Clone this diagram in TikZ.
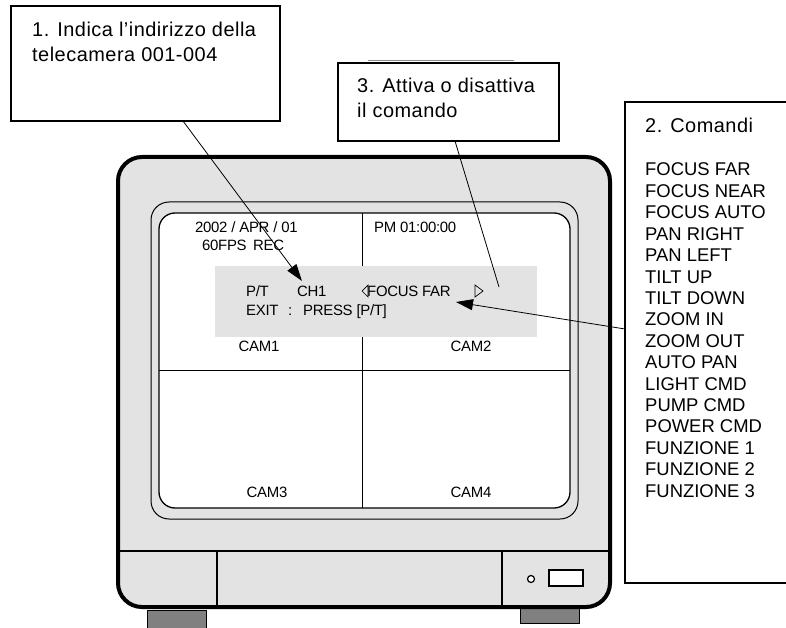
\documentclass[tikz,border=0pt]{standalone}
\usepackage{fontspec}
\setmainfont{Liberation Sans}
\newfontfamily\wideF[LetterSpace=2.5]{Liberation Sans}
\newfontfamily\osdF[LetterSpace=-2]{Liberation Sans}
\usetikzlibrary{arrows.meta}
\definecolor{panel}{HTML}{E3E3E3}
\definecolor{footgray}{HTML}{808080}
\begin{document}
\begin{tikzpicture}[x=1bp,y=-1bp,
  callout/.style={draw, line width=1.4bp, fill=white, inner sep=0pt, outer sep=0pt, anchor=north west},
  lbl/.style={anchor=base west, inner sep=0pt, font=\fontsize{20}{24}\wideF},
  lst/.style={anchor=base west, inner sep=0pt, font=\fontsize{18.5}{21}\selectfont},
  osd/.style={anchor=base west, inner sep=0pt, font=\fontsize{15}{18}\osdF},
  cam/.style={anchor=base, inner sep=0pt, font=\fontsize{15}{18}\osdF},
  conn/.style={line width=0.8bp},
  arr/.style={conn, -{Triangle[length=17bp,width=11bp]}},
  tri/.style={draw, line width=0.7bp, fill=panel}
]
\path[use as bounding box, clip] (0,0) rectangle (786,628);
\fill[white] (0,0) rectangle (786,628);

% feet
\draw[fill=footgray, line width=1bp] (147,610) rectangle (206,640);
\draw[fill=footgray, line width=1bp] (520,606) rectangle (579,623);

% monitor body
\draw[line width=4bp, fill=panel, rounded corners=24bp] (118,157) rectangle (610,607);
% bezel
\draw[line width=1bp, rounded corners=18bp] (151,202) rectangle (578,519);
% screen
\draw[line width=1.3bp, fill=white, rounded corners=16bp] (159,213) rectangle (570,508);
\draw[line width=1bp] (362,213) -- (362,508);
\draw[line width=1bp] (159,370) -- (570,370);
% OSD panel
\fill[panel] (215,266) rectangle (537,337);

% lower panel
\draw[line width=1.2bp] (120,551) -- (608,551);
\draw[line width=1.2bp] (217,551) -- (217,605);
\draw[line width=1.2bp] (502,551) -- (502,605);
\draw[line width=1.2bp, fill=white] (531,579) circle (3.5);
\draw[line width=1.2bp, fill=white] (549,570) rectangle (583,586);

% screen texts
\node[osd] (d1) at (195,233) {2002 / APR / 01};
\node[osd] (d2) at (202,250) {60FPS};
\node[osd] (d3) at (253,250) {REC};
\node[osd] (d4) at (374,233) {PM 01:00:00};
\node[osd] (o1) at (246,296) {P/T};
\node[osd] (o2) at (297,296) {CH1};
\node[osd] (o3) at (367,296) {FOCUS FAR};
\node[osd] (o4) at (246,315) {EXIT};
\node[osd] (o5) at (288,315) {:};
\node[osd] (o6) at (303,315) {PRESS [P/T]};
\draw[tri] (368,285) -- (362,291) -- (368,297) -- cycle;
\draw[tri] (475,285) -- (483,291) -- (475,297) -- cycle;
\node[cam] (c1) at (259,351) {CAM1};
\node[cam] (c2) at (471,351) {CAM2};
\node[cam] (c3) at (267,497) {CAM3};
\node[cam] (c4) at (471,497) {CAM4};

% callout boxes
\node[callout, minimum width=269bp, minimum height=115bp] (b1) at (11,6) {};
\node[lbl] (b1a) at (32,37) {1. Indica l’indirizzo della};
\node[lbl] (b1b) at (32,62) {telecamera 001-004};

\draw[black!45, line width=1bp] (368,61) -- (514,61);
\node[callout, minimum width=221bp, minimum height=78bp] (b3) at (338,63) {};
\node[lbl] (b3a) at (357,93) {3. Attiva o disattiva};
\node[lbl] (b3b) at (357,118) {il comando};

\node[callout, minimum width=200bp, minimum height=481bp] (b2) at (625,102) {};
\node[lbl] (b2t) at (645,133) {2. Comandi};
\foreach \t [count=\i from 0] in {FOCUS FAR,FOCUS NEAR,FOCUS AUTO,PAN RIGHT,PAN LEFT,TILT UP,TILT DOWN,ZOOM IN,ZOOM OUT,AUTO PAN,LIGHT CMD,PUMP CMD,POWER CMD,FUNZIONE 1,FUNZIONE 2,FUNZIONE 3}
  \node[lst] (l\i) at (645,176+21.4*\i) {\t};

% connectors
\coordinate (s1) at (183,121);
\coordinate (t1) at (302,281);
\coordinate (s3) at (455,141);
\coordinate (t3) at (499,287);
\coordinate (s2) at (625,329);
\coordinate (t2) at (456,302);
\draw[arr] (s1) -- (t1);
\draw[conn] (s3) -- (t3);
\draw[arr] (s2) -- (t2);
\end{tikzpicture}
\end{document}
